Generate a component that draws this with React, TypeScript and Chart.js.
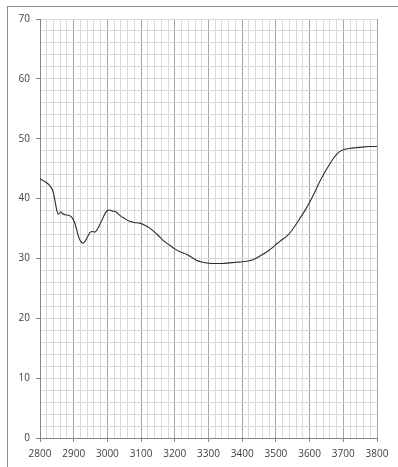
import React, { useEffect, useRef } from "react";
import { Chart, registerables } from "chart.js";

Chart.register(...registerables);

const waveNumbers = [
  2800, 2815, 2830, 2838, 2845, 2850, 2855, 2862, 2867, 2874, 2884, 2894, 2904,
  2913, 2920, 2927, 2933, 2940, 2948, 2956, 2962, 2968, 2976, 2984, 2992, 3000,
  3006, 3015, 3025, 3037, 3050, 3066, 3080, 3096, 3110, 3125, 3140, 3155, 3170,
  3185, 3200, 3215, 3234, 3250, 3264, 3280, 3300, 3320, 3340, 3362, 3380, 3400,
  3421, 3440, 3455, 3470, 3485, 3500, 3515, 3530, 3545, 3560, 3570, 3585, 3600,
  3615, 3628, 3643, 3658, 3673, 3688, 3702, 3720, 3737, 3755, 3776, 3800,
];

const transmittance = [
  43.3, 42.8, 42.1, 41.3, 39.5, 38.0, 37.4, 37.8, 37.5, 37.3, 37.2, 36.9, 35.8,
  33.9, 32.9, 32.55, 32.8, 33.5, 34.3, 34.5, 34.4, 34.7, 35.5, 36.4, 37.4, 38.0,
  38.1, 37.9, 37.8, 37.2, 36.7, 36.2, 36.0, 35.9, 35.6, 35.1, 34.4, 33.6, 32.8,
  32.2, 31.6, 31.1, 30.7, 30.2, 29.7, 29.4, 29.2, 29.15, 29.15, 29.25, 29.35, 29.45,
  29.6, 30.0, 30.5, 31.0, 31.6, 32.3, 33.0, 33.6, 34.5, 35.7, 36.6, 37.9, 39.4,
  41.0, 42.6, 44.2, 45.6, 46.9, 47.8, 48.2, 48.4, 48.5, 48.6, 48.7, 48.7,
];

const xMin = 2800;
const xMax = 3800;
const xMinorStep = 20;
const xMajorStep = 100;
const yMin = 0;
const yMax = 70;
const yMinorStep = 2;
const yMajorStep = 10;

export default function App() {
  const canvasRef = useRef<HTMLCanvasElement | null>(null);

  useEffect(() => {
    const canvas = canvasRef.current;
    if (!canvas) return;
    const points = waveNumbers.map((x, i) => ({ x, y: transmittance[i] }));
    const chart = new Chart(canvas, {
      type: "line",
      data: {
        datasets: [
          {
            data: points,
            borderColor: "#2b2b2b",
            borderWidth: 1.1,
            pointRadius: 0,
            cubicInterpolationMode: "monotone",
            fill: false,
          },
        ],
      },
      options: {
        animation: false,
        responsive: false,
        devicePixelRatio: 1,
        layout: { padding: { left: 0, top: 19, right: 21, bottom: 0 } },
        plugins: { legend: { display: false }, tooltip: { enabled: false } },
        scales: {
          x: {
            type: "linear",
            min: xMin,
            max: xMax,
            afterFit: (s: any) => {
              s.height = 29;
            },
            ticks: {
              stepSize: xMinorStep,
              autoSkip: false,
              maxRotation: 0,
              padding: 6,
              color: "#404040",
              font: { family: "Open Sans", size: 10 },
              callback: (v: any) => (Number(v) % xMajorStep === 0 ? String(v) : ""),
            },
            grid: {
              color: (ctx: any) =>
                ctx.tick && ctx.tick.value % xMajorStep === 0 ? "#a6a6a6" : "#d9d9d9",
              tickColor: (ctx: any) =>
                ctx.tick && ctx.tick.value % xMajorStep === 0 ? "#868686" : "rgba(0,0,0,0)",
              tickLength: 4,
              lineWidth: 1,
            },
            border: { display: true, color: "#868686", width: 1 },
          },
          y: {
            type: "linear",
            min: yMin,
            max: yMax,
            afterFit: (s: any) => {
              s.width = 40;
            },
            ticks: {
              stepSize: yMinorStep,
              autoSkip: false,
              padding: 6,
              color: "#404040",
              font: { family: "Open Sans", size: 10 },
              callback: (v: any) => (Number(v) % yMajorStep === 0 ? String(v) : ""),
            },
            grid: {
              color: "#d9d9d9",
              tickColor: (ctx: any) =>
                ctx.tick && ctx.tick.value % yMajorStep === 0 ? "#868686" : "rgba(0,0,0,0)",
              tickLength: 4,
              lineWidth: 1,
            },
            border: { display: true, color: "#868686", width: 1 },
          },
        },
      },
    } as any);
    return () => chart.destroy();
  }, []);

  return (
    <div
      style={{
        position: "fixed",
        left: 0,
        top: 0,
        width: 398,
        height: 467,
        background: "#ffffff",
        overflow: "hidden",
      }}
    >
      <div
        style={{
          position: "absolute",
          left: 7,
          top: 6,
          width: 420,
          height: 480,
          borderLeft: "1px solid #8c8c8c",
          borderTop: "1px solid #8c8c8c",
        }}
      />
      <canvas
        ref={canvasRef}
        width={398}
        height={467}
        style={{ position: "absolute", left: 0, top: 0, display: "block" }}
      />
    </div>
  );
}
